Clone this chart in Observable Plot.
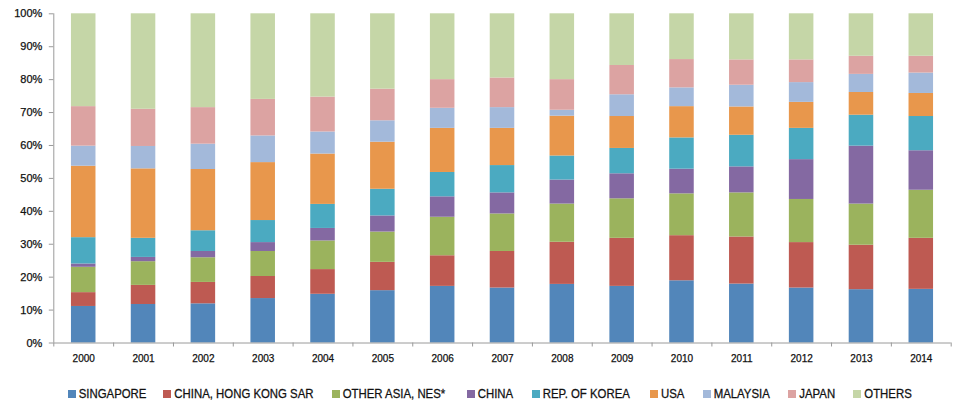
<!DOCTYPE html>
<html><head><meta charset="utf-8">
<script src="https://cdn.jsdelivr.net/npm/d3@7"></script>
<script src="https://cdn.jsdelivr.net/npm/@observablehq/plot@0.6"></script>
<style>
html,body{margin:0;padding:0;background:#fff;}
body{width:958px;height:403px;overflow:hidden;font-family:"Liberation Sans",Arial,sans-serif;}
#legend{position:relative;height:31px;}
.item{position:absolute;top:16px;display:flex;align-items:center;font-size:11.4px;color:#111;white-space:nowrap;line-height:12px;-webkit-text-stroke:0.25px #111;}
.item span.t{display:inline-block;transform:scaleY(1.12);}
.sw{width:8px;height:8px;margin-right:3px;}
svg text{stroke:#111;stroke-width:0.25px;}
</style></head>
<body><div id="chart"></div><div id="legend"></div>
<script>
const years = [2000,2001,2002,2003,2004,2005,2006,2007,2008,2009,2010,2011,2012,2013,2014];
const seriesNames = ["SINGAPORE","CHINA, HONG KONG SAR","OTHER ASIA, NES*","CHINA","REP. OF KOREA","USA","MALAYSIA","JAPAN","OTHERS"];
const singapore  = [11.1,11.7,11.9,13.5,14.8,15.9,17.2,16.7,17.8,17.2,18.9,17.9,16.7,16.2,16.3];
const hongKong   = [4.2,5.8,6.5,6.7,7.5,8.6,9.3,11.1,12.8,14.6,13.7,14.3,13.8,13.5,15.5];
const otherAsia  = [7.7,7.2,7.5,7.6,8.7,9.2,11.7,11.4,11.6,12.0,12.7,13.4,13.1,12.5,14.6];
const china      = [1.0,1.3,1.9,2.7,3.8,4.9,6.2,6.4,7.3,7.6,7.5,7.9,12.1,17.6,12.0];
const korea      = [8.0,5.8,6.3,6.7,7.3,8.1,7.4,8.3,7.3,7.7,9.5,9.6,9.5,9.4,10.4];
const usa        = [21.7,21.1,18.6,17.6,15.3,14.3,13.4,11.3,12.1,9.7,9.5,8.6,7.9,6.9,7.0];
const malaysia   = [6.1,6.8,7.7,8.1,6.7,6.5,6.1,6.3,1.8,6.6,5.7,6.6,6.0,5.5,6.2];
const japan      = [12.0,11.3,11.1,11.1,10.6,9.6,8.7,9.0,9.3,8.9,8.6,7.7,6.9,5.5,5.1];
const others     = [28.2,29.0,28.5,26.0,25.3,22.9,20.0,19.5,20.0,15.7,13.9,14.0,14.0,12.9,12.9];
const yTicks = [0,10,20,30,40,50,60,70,80,90,100];
const colors = ["#5286BA","#BE5A52","#9BB35D","#8469A2","#4BAAC1","#E8974C","#A3B9DA","#DCA3A2","#C5D6A7"];
const legendX = [67.7,163.3,331.7,466.7,531.7,650,702.7,788.3,853.3];

const seriesValues = [singapore,hongKong,otherAsia,china,korea,usa,malaysia,japan,others];
const table = [];
years.forEach((yr,i)=>seriesNames.forEach((s,j)=>table.push({year:yr,series:s,value:seriesValues[j][i]})));
const boundaries = [years[0]-0.5, ...years.map(y=>y+0.5)];
const half = 0.205;

const chart = Plot.plot({
  width: 958, height: 372,
  marginLeft: 53.3, marginRight: 7.3, marginTop: 13.3, marginBottom: 29.5,
  style: {fontFamily: '"Liberation Sans", Arial, sans-serif', color: "#111", background: "#fff"},
  x: {type: "linear", domain: [years[0]-0.5, years[years.length-1]+0.5], axis: null},
  y: {domain: [0,100], axis: null},
  color: {domain: seriesNames, range: colors},
  marks: [
    Plot.rectY(table, {x1: d=>d.year-half, x2: d=>d.year+half, y: "value", fill: "series", order: seriesNames}),
    Plot.axisY({ticks: yTicks, tickFormat: d=>d+"%", tickSize: 4.5, tickPadding: 7, stroke: "#9a9a9a", fontSize: 11, fill: "#111", label: null}),
    Plot.axisX({ticks: boundaries, tickFormat: ()=>"", tickSize: 4, stroke: "#9a9a9a", label: null}),
    Plot.axisX({ticks: years, tickFormat: d=>String(d), tickSize: 0, tickPadding: 12, fontSize: 10, fill: "#111", label: null}),
    Plot.ruleX([years[0]-0.5], {stroke: "#9a9a9a"}),
    Plot.ruleY([0], {stroke: "#9a9a9a"})
  ]
});
document.getElementById("chart").appendChild(chart);

const legend = document.getElementById("legend");
seriesNames.forEach((s,i)=>{
  const it = document.createElement("div");
  it.className = "item";
  it.style.left = legendX[i] + "px";
  it.innerHTML = `<span class="sw" style="background:${colors[i]}"></span><span class="t">${s}</span>`;
  legend.appendChild(it);
});
</script>
</body></html>
